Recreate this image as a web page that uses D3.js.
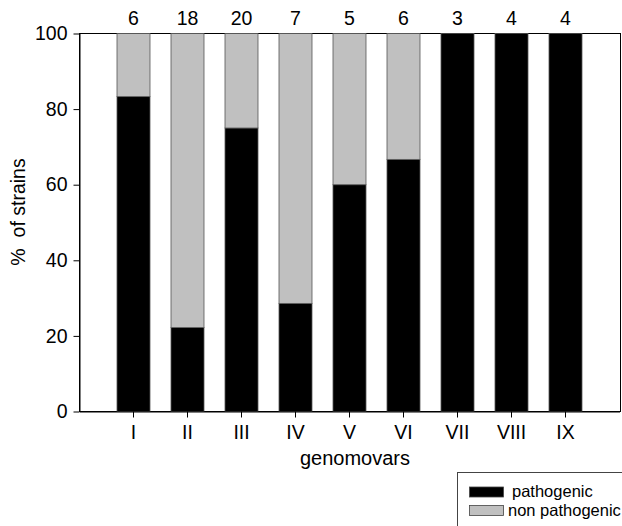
<!DOCTYPE html>
<html>
<head>
<meta charset="utf-8">
<script src="https://cdn.jsdelivr.net/npm/d3@7"></script>
<style>
  body { margin: 0; background: #fff; }
  svg { display: block; font-family: "Liberation Sans", Arial, sans-serif; }
</style>
</head>
<body>
<svg id="chart"></svg>
<script>
const genomovars = ["I", "II", "III", "IV", "V", "VI", "VII", "VIII", "IX"];
const strainCounts = [6, 18, 20, 7, 5, 6, 3, 4, 4];
const pathogenic = [83.3, 22.2, 75, 28.6, 60, 66.7, 100, 100, 100];
const nonPathogenic = [16.7, 77.8, 25, 71.4, 40, 33.3, 0, 0, 0];
const yTicks = [0, 20, 40, 60, 80, 100];

const w = 622, h = 526;
const plotLeft = 79.5, plotRight = 619.5, plotTop = 33.5, plotBottom = 411.5;

const svg = d3.select("#chart")
    .attr("width", w)
    .attr("height", h);

// Scales
const xScale = d3.scaleBand()
    .domain(genomovars)
    .range([plotLeft, plotRight])
    .paddingInner(21 / 54)
    .paddingOuter(37.5 / 54);

const yScale = d3.scaleLinear()
    .domain([0, 100])
    .range([plotBottom, plotTop]);

// frame
svg.append("rect")
    .attr("x", plotLeft)
    .attr("y", plotTop)
    .attr("width", plotRight - plotLeft + 1)
    .attr("height", plotBottom - plotTop)
    .attr("fill", "none")
    .attr("stroke", "#000");

const rows = genomovars.map((g, i) => ({
    g,
    n: strainCounts[i],
    path: pathogenic[i],
    non: nonPathogenic[i]
}));

// bars
svg.selectAll("rect.path")
    .data(rows)
    .enter()
    .append("rect")
    .attr("class", "path")
    .attr("x", d => xScale(d.g))
    .attr("y", d => yScale(d.path))
    .attr("width", xScale.bandwidth())
    .attr("height", d => yScale(0) - yScale(d.path))
    .attr("fill", "#000")
    .attr("stroke", "#555")
    .attr("stroke-width", 0.8);

svg.selectAll("rect.non")
    .data(rows.filter(d => d.non > 0))
    .enter()
    .append("rect")
    .attr("class", "non")
    .attr("x", d => xScale(d.g))
    .attr("y", d => yScale(d.path + d.non))
    .attr("width", xScale.bandwidth())
    .attr("height", d => yScale(d.path) - yScale(d.path + d.non))
    .attr("fill", "#c0c0c0")
    .attr("stroke", "#555")
    .attr("stroke-width", 0.8);

// counts on top
svg.selectAll("text.count")
    .data(rows)
    .enter()
    .append("text")
    .attr("class", "count")
    .attr("x", d => xScale(d.g) + xScale.bandwidth() / 2)
    .attr("y", 25)
    .attr("text-anchor", "middle")
    .style("font-size", "19.5px")
    .text(d => d.n);

// Axis
const yAxis = d3.axisLeft(yScale)
    .tickValues(yTicks)
    .tickSize(6)
    .tickSizeOuter(0)
    .tickPadding(6);

const xAxis = d3.axisBottom(xScale)
    .tickSize(6)
    .tickSizeOuter(0)
    .tickPadding(8);

const gy = svg.append("g")
    .attr("transform", `translate(${plotLeft},0)`)
    .call(yAxis);

const gx = svg.append("g")
    .attr("transform", `translate(0,${plotBottom})`)
    .call(xAxis);

[gx, gy].forEach(g => {
    g.select(".domain").attr("stroke", "#000");
    g.selectAll(".tick line").attr("stroke", "#000");
    g.selectAll(".tick text")
        .attr("fill", "#000")
        .style("font-size", "19.5px")
        .style("font-family", "'Liberation Sans', Arial, sans-serif");
});

// Axis labels
svg.append("text")
    .attr("x", 355)
    .attr("y", 465)
    .attr("text-anchor", "middle")
    .style("font-size", "20px")
    .text("genomovars");

svg.append("text")
    .attr("transform", "rotate(-90)")
    .attr("x", -212)
    .attr("y", 25)
    .attr("text-anchor", "middle")
    .style("font-size", "19.5px")
    .style("white-space", "pre")
    .text("%  of strains");

// legend
const legend = svg.append("g");
legend.append("rect")
    .attr("x", 457.5)
    .attr("y", 472.5)
    .attr("width", 200)
    .attr("height", 100)
    .attr("fill", "#fff")
    .attr("stroke", "#444");

const legendItems = [
    { label: "pathogenic", fill: "#000", y: 487, tx: 512 },
    { label: "non pathogenic", fill: "#c0c0c0", y: 505.5, tx: 508 }
];

legend.selectAll("rect.sw")
    .data(legendItems)
    .enter()
    .append("rect")
    .attr("class", "sw")
    .attr("x", 469.5)
    .attr("y", d => d.y)
    .attr("width", 34)
    .attr("height", 10)
    .attr("fill", d => d.fill)
    .attr("stroke", "#444")
    .attr("stroke-width", 0.8);

legend.selectAll("text")
    .data(legendItems)
    .enter()
    .append("text")
    .attr("x", d => d.tx)
    .attr("y", d => d.y + 10)
    .style("font-size", "16.5px")
    .text(d => d.label);
</script>
</body>
</html>
